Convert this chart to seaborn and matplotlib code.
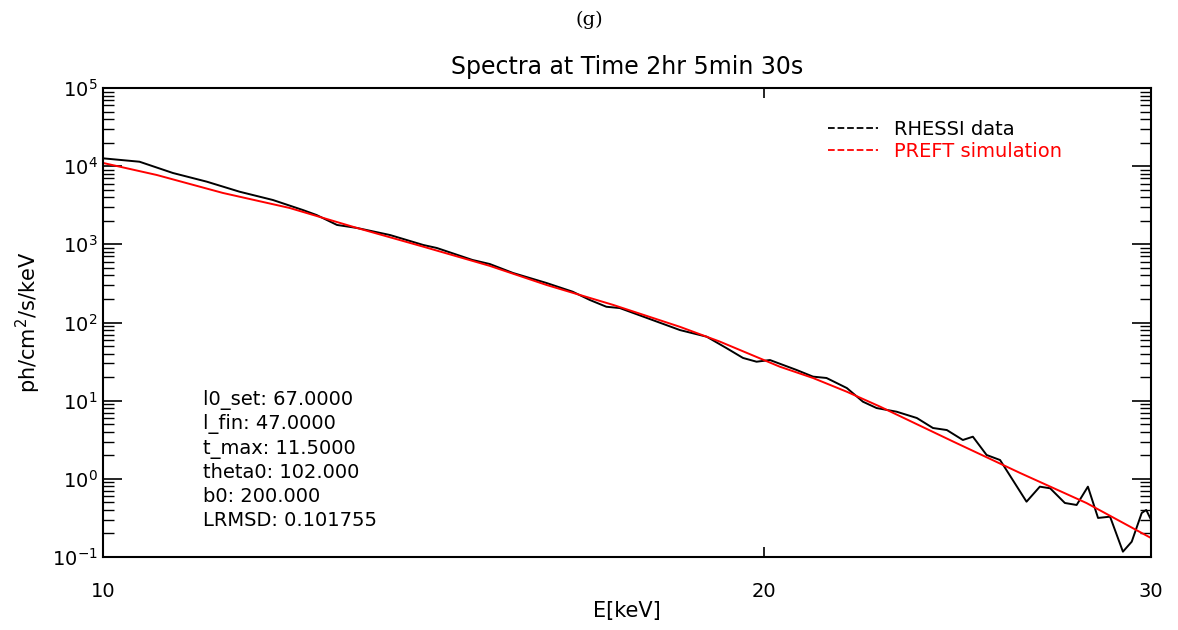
import numpy as np
import pandas as pd
import matplotlib
matplotlib.use("Agg")
import matplotlib.pyplot as plt
from matplotlib.lines import Line2D
from matplotlib.ticker import (FixedLocator, FixedFormatter, NullLocator,
                               NullFormatter, LogFormatterSciNotation)
import seaborn as sns

# ---- data ----
rhessi_E = [10.0, 10.39, 10.76, 11.15, 11.54, 11.95, 12.33, 12.51, 12.78, 13.05,
            13.51, 13.99, 14.19, 14.73, 15.0, 15.37, 15.92, 16.36, 16.66, 16.95,
            17.19, 17.69, 18.31, 18.83, 19.23, 19.56, 19.84, 20.12, 20.69, 21.05,
            21.35, 21.81, 22.18, 22.50, 22.98, 23.47, 23.87, 24.22, 24.63, 24.89,
            25.25, 25.61, 26.33, 26.70, 26.99, 27.41, 27.75, 28.08, 28.38, 28.74,
            29.13, 29.40, 29.71, 29.85, 30.0]
rhessi_F = [12600, 11400, 8180, 6330, 4710, 3690, 2750, 2370, 1770, 1620,
            1316, 981, 898, 631, 560, 430, 320, 248, 194, 159,
            153, 114, 80, 65.8, 46.8, 35.2, 31.5, 33.1, 24.7, 20.3,
            19.5, 14.5, 9.7, 8.05, 7.22, 6.0, 4.47, 4.21, 3.14, 3.46,
            2.02, 1.74, 0.51, 0.794, 0.757, 0.491, 0.463, 0.794, 0.316, 0.328,
            0.117, 0.157, 0.366, 0.40, 0.30]

preft_E = [10.0, 10.58, 11.34, 12.16, 13.05, 13.99, 15.0, 15.92, 17.07, 18.31,
           19.09, 20.33, 21.05, 21.81, 22.58, 24.38, 26.15, 28.04, 30.0]
preft_F = [11000, 7710, 4540, 2920, 1620, 933, 530, 302, 168, 88,
           57, 27.2, 19.5, 13.0, 8.4, 3.0, 1.19, 0.49, 0.175]

x_ticks = [10, 20, 30]
x_tick_labels = ["10", "20", "30"]
y_decades = [-1, 0, 1, 2, 3, 4, 5]

param_lines = ["l0_set: 67.0000", "l_fin: 47.0000", "t_max: 11.5000",
               "theta0: 102.000", "b0: 200.000", "LRMSD: 0.101755"]

# ---- plotting ----
sns.set_style("white")
plt.rcParams['font.family'] = ['DejaVu Sans']
plt.rcParams['text.color'] = 'black'
plt.rcParams['axes.labelcolor'] = 'black'
plt.rcParams['xtick.color'] = 'black'
plt.rcParams['ytick.color'] = 'black'

fig = plt.figure(figsize=(11.78, 6.30), dpi=100)
ax = fig.add_axes([103/1178, 1-557/630, (1151-103)/1178, (557-88)/630])

df_r = pd.DataFrame({"E": rhessi_E, "F": rhessi_F})
df_p = pd.DataFrame({"E": preft_E, "F": preft_F})
sns.lineplot(data=df_r, x="E", y="F", color="black", lw=1.4, ax=ax,
             sort=False, estimator=None)
sns.lineplot(data=df_p, x="E", y="F", color="red", lw=1.4, ax=ax,
             sort=False, estimator=None)

ax.set_xscale("log")
ax.set_yscale("log")
ax.set_xlim(10, 30)
ax.set_ylim(0.1, 1e5)

ax.xaxis.set_major_locator(FixedLocator(x_ticks))
ax.xaxis.set_major_formatter(FixedFormatter(x_tick_labels))
ax.xaxis.set_minor_locator(NullLocator())
ax.xaxis.set_minor_formatter(NullFormatter())

major_y = [10.0 ** d for d in y_decades]
minor_y = [m * 10.0 ** d for d in y_decades[:-1] for m in range(2, 10)]
ax.yaxis.set_major_locator(FixedLocator(major_y))
ax.yaxis.set_major_formatter(LogFormatterSciNotation(base=10))
ax.yaxis.set_minor_locator(FixedLocator(minor_y))
ax.yaxis.set_minor_formatter(NullFormatter())

for s in ax.spines.values():
    s.set_linewidth(1.5)
    s.set_color("black")

ax.tick_params(axis='x', which='major', direction='in', length=7, width=1.2,
               top=True, bottom=True, labelsize=14, pad=18)
ax.tick_params(axis='y', which='major', direction='in', length=14, width=1.2,
               left=True, right=True, labelsize=14, pad=4)
ax.tick_params(axis='y', which='minor', direction='in', length=8, width=1.0,
               left=True, right=True)

ax.set_xlabel("E[keV]", fontsize=15, labelpad=0)
ax.set_ylabel("ph/cm$^2$/s/keV", fontsize=15, labelpad=6)
ax.set_title("Spectra at Time 2hr 5min 30s", fontsize=17, pad=10, color="black")

fig.text(0.5, 1-20/630, "(g)", ha="center", va="center", fontsize=14,
         family="DejaVu Serif")

handles = [Line2D([], [], color="black", ls="--", lw=1.3),
           Line2D([], [], color="red", ls="--", lw=1.3)]
leg = ax.legend(handles, ["RHESSI data", "PREFT simulation"], loc="upper left",
                bbox_to_anchor=((820-103)/1048, 1-(112-88)/469), frameon=False,
                fontsize=14, handlelength=2.6, handletextpad=0.8, labelspacing=0.15,
                borderaxespad=0)
for t, c in zip(leg.get_texts(), ["black", "red"]):
    t.set_color(c)

ax.text((203-103)/1048, 1-(390-88)/469, "\n".join(param_lines),
        transform=ax.transAxes, ha="left", va="top", fontsize=14,
        linespacing=1.3)

fig.savefig("out.png", dpi=100)
